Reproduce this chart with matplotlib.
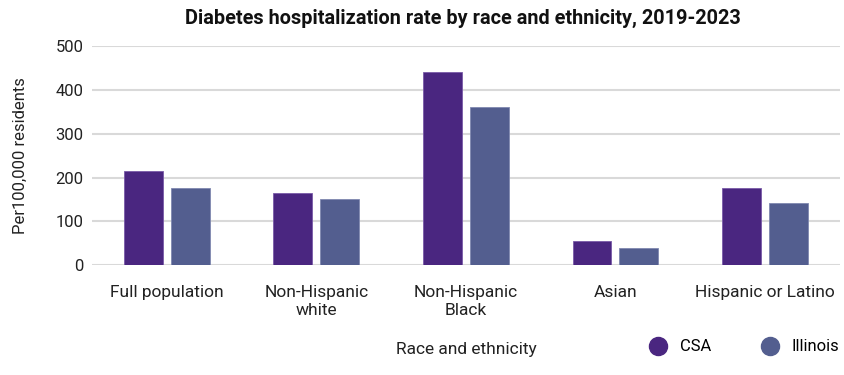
import matplotlib.pyplot as plt
import numpy as np
from matplotlib.lines import Line2D

plt.rcParams['font.family'] = ['Roboto', 'DejaVu Sans']

groups = ["Full population", "Non-Hispanic\nwhite", "Non-Hispanic\nBlack", "Asian", "Hispanic or Latino"]
csa = [214, 164, 440, 56, 175]
illinois = [175, 150, 362, 39, 141]

c_csa = "#4a2680"
c_il = "#535e8f"

fig = plt.figure(figsize=(8.44, 3.75), dpi=100)
ax = fig.add_axes([0.109, 0.293, 0.886, 0.584])

x = np.arange(len(groups))
w = 0.26
off = 0.157
ax.bar(x - off, csa, w, color=c_csa, edgecolor="#7a5aa8", linewidth=0.6, zorder=3)
ax.bar(x + off, illinois, w, color=c_il, edgecolor="#8088b0", linewidth=0.6, zorder=3)

ax.set_xlim(-0.5, 4.5)
ax.set_ylim(0, 500)
ax.set_yticks([0, 100, 200, 300, 400, 500])
ax.yaxis.grid(True, color="#d9d9d9", linewidth=1.5, zorder=0)
ax.set_axisbelow(True)
for s in ax.spines.values():
    s.set_visible(False)
ax.tick_params(axis="y", length=0, pad=6, labelsize=12, labelcolor="#222222")
ax.tick_params(axis="x", length=0, pad=14, labelsize=12.5, labelcolor="#222222")
ax.set_xticks(x)
ax.set_xticklabels(groups, linespacing=1.25)

ax.set_ylabel("Per100,000 residents", fontsize=12, color="#222222", labelpad=20)
fig.text(0.552, 0.067, "Race and ethnicity", ha="center", va="center", fontsize=12.5, color="#222222")
fig.text(0.549, 0.952, "Diabetes hospitalization rate by race and ethnicity, 2019-2023",
         ha="center", va="center", fontsize=14.3, fontweight="bold", color="#111111")

handles = [Line2D([], [], marker="o", linestyle="none", markersize=13, color=c_csa),
           Line2D([], [], marker="o", linestyle="none", markersize=13, color=c_il)]
fig.legend(handles, ["CSA", "Illinois"], loc="center right", bbox_to_anchor=(1.012, 0.075),
           ncol=2, frameon=False, fontsize=12, handletextpad=0.3, columnspacing=2.5)

fig.savefig("out.png", dpi=100)
